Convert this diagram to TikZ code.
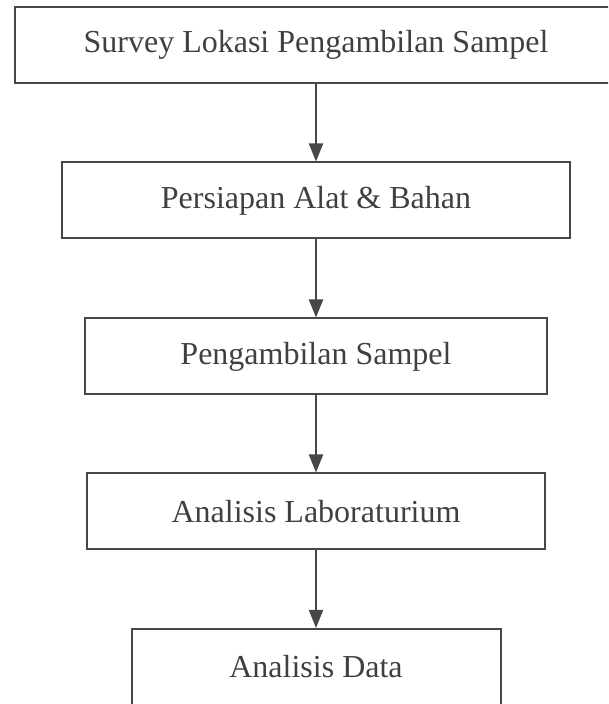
\documentclass[tikz,border=0pt]{standalone}
\usepackage{fontspec}
\setmainfont{Liberation Serif}
\usetikzlibrary{arrows.meta}
\definecolor{linegray}{HTML}{474747}
\definecolor{textgray}{HTML}{404040}

\begin{document}
\begin{tikzpicture}[>={Triangle[width=7pt,length=9pt]}, x=1pt, y=1pt]
            \useasboundingbox (0,0) rectangle (304,352);
            \clip (0,0) rectangle (304,352);
            \tikzset{stepbox/.style={rectangle, draw=linegray, line width=1pt, minimum height=38pt,
                    text=textgray, font=\fontsize{16}{19}\selectfont, inner sep=0pt}}
            \node[stepbox, minimum width=301pt] (survey) at (158,329.5) {Survey Lokasi Pengambilan Sampel};
            \node[stepbox, minimum width=254pt] (persiapan) at (158,251.75) {Persiapan Alat \& Bahan};
            \node[stepbox, minimum width=231pt] (sampel) at (158,173.75) {Pengambilan Sampel};
            \node[stepbox, minimum width=229pt] (lab) at (158,96.25) {Analisis Laboraturium};
            \node[stepbox, minimum width=184.5pt] (data) at (158,18.5) {Analisis Data};

            \foreach \i/\j in {survey/persiapan, persiapan/sampel, sampel/lab, lab/data} {
                \draw[->, linegray, line width=1pt] (\i) -- (\j);
            }
        \end{tikzpicture}
\end{document}
